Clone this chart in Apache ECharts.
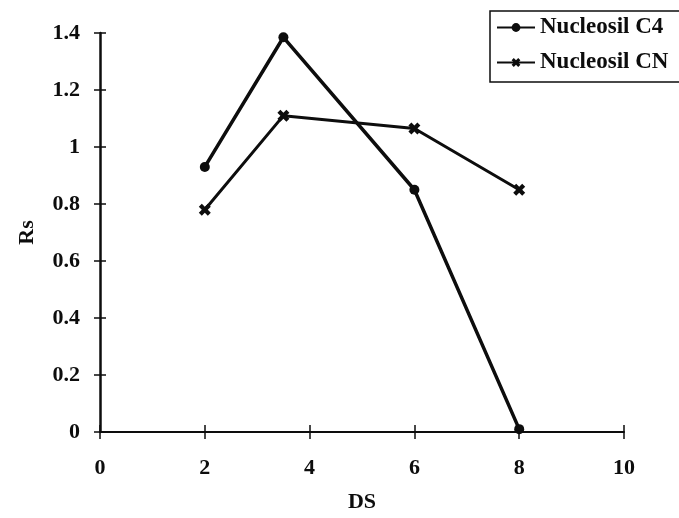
<!DOCTYPE html>
<html>
<head>
<meta charset="utf-8">
<script src="https://cdn.jsdelivr.net/npm/echarts@6/dist/echarts.min.js"></script>
<style>
  html, body { margin: 0; padding: 0; background: #ffffff; }
  #chart { width: 679px; height: 518px; }
</style>
</head>
<body>
<div id="chart"></div>
<script>
// DS values and measured resolution (Rs) for the two stationary phases
const dsValues = [2, 3.5, 6, 8];
const rsC4 = [0.93, 1.385, 0.85, 0.01];
const rsCN = [0.78, 1.11, 1.065, 0.85];
const seriesNames = ['Nucleosil C4', 'Nucleosil CN'];

const xTicks = [0, 2, 4, 6, 8, 10];
const yTicks = [0, 0.2, 0.4, 0.6, 0.8, 1, 1.2, 1.4];

const FONT = '"Liberation Serif", "DejaVu Serif", serif';
const INK = '#0d0d0d';

// filled "x" marker outline
const crossPath = 'path://M0,2.5L2.5,0L5,2.5L7.5,0L10,2.5L7.5,5L10,7.5L7.5,10L5,7.5L2.5,10L0,7.5L2.5,5Z';

const pairs = (ys) => dsValues.map((x, i) => [x, ys[i]]);

const chart = echarts.init(document.getElementById('chart'));

const labelStyle = { color: INK, fontFamily: FONT, fontWeight: 'bold', fontSize: 22 };

chart.setOption({
  backgroundColor: '#ffffff',
  animation: false,
  grid: { left: 100, right: 55, top: 33, bottom: 85 },
  legend: {
    orient: 'vertical',
    left: 490,
    top: 11,
    itemGap: 12,
    itemWidth: 38,
    itemHeight: 11,
    padding: [5, 12, 8, 6],
    borderColor: INK,
    borderWidth: 1.5,
    textStyle: { color: INK, fontFamily: FONT, fontWeight: 'bold', fontSize: 23 },
    data: seriesNames
  },
  xAxis: [{
    type: 'value',
    min: 0, max: 10, interval: 2,
    name: 'DS',
    nameLocation: 'middle',
    nameGap: 59,
    nameTextStyle: labelStyle,
    axisLine: { lineStyle: { color: INK, width: 2 } },
    axisTick: { show: true, length: 7, lineStyle: { color: INK, width: 1.5 } },
    axisLabel: Object.assign({ margin: 25, formatter: v => xTicks.includes(v) ? String(v) : '' }, labelStyle),
    splitLine: { show: false }
  }, {
    type: 'value',
    min: 0, max: 10, interval: 2,
    position: 'bottom',
    axisLine: { show: false },
    axisTick: { show: true, inside: true, length: 7, lineStyle: { color: INK, width: 1.5 } },
    axisLabel: { show: false },
    splitLine: { show: false }
  }],
  yAxis: [{
    type: 'value',
    min: 0, max: 1.4, interval: 0.2,
    name: 'Rs',
    nameLocation: 'middle',
    nameGap: 62,
    nameTextStyle: labelStyle,
    axisLine: { show: true, lineStyle: { color: INK, width: 2.5 } },
    axisTick: { show: true, length: 6, lineStyle: { color: INK, width: 1.5 } },
    axisLabel: Object.assign({ margin: 20, formatter: v => {
      const t = yTicks.find(y => Math.abs(y - v) < 1e-6);
      return t === undefined ? '' : String(t);
    } }, labelStyle),
    splitLine: { show: false }
  }, {
    type: 'value',
    min: 0, max: 1.4, interval: 0.2,
    position: 'left',
    axisLine: { show: false },
    axisTick: { show: true, inside: true, length: 6, lineStyle: { color: INK, width: 1.5 } },
    axisLabel: { show: false },
    splitLine: { show: false }
  }],
  series: [{
    name: seriesNames[0],
    type: 'line',
    data: pairs(rsC4),
    symbol: 'circle',
    symbolSize: 10,
    lineStyle: { color: INK, width: 3.5 },
    itemStyle: { color: INK, borderColor: INK, borderWidth: 0 },
    z: 3
  }, {
    name: seriesNames[1],
    type: 'line',
    data: pairs(rsCN),
    symbol: crossPath,
    symbolSize: 12,
    lineStyle: { color: INK, width: 3 },
    itemStyle: { color: INK, borderColor: INK, borderWidth: 0 },
    z: 3
  }]
});
</script>
</body>
</html>
